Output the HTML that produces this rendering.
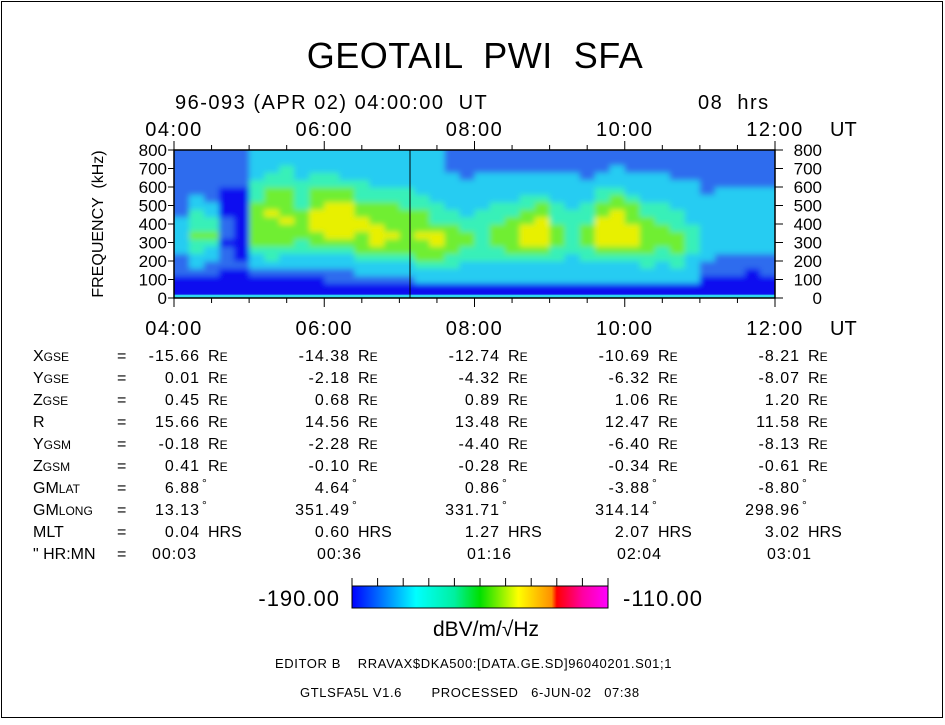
<!DOCTYPE html>
<html><head><meta charset="utf-8"><style>
body{margin:0;background:#fff}
svg text{font-family:"Liberation Sans",sans-serif;fill:#000;white-space:pre}
</style></head><body>
<svg id="s" width="945" height="720" viewBox="0 0 945 720" xmlns="http://www.w3.org/2000/svg">
<defs>
<linearGradient id="cb" x1="0" x2="1">
<stop offset="0" stop-color="#0000ff"/><stop offset="0.25" stop-color="#00ffff"/><stop offset="0.4" stop-color="#00f0a0"/><stop offset="0.5" stop-color="#00e000"/><stop offset="0.65" stop-color="#ffff00"/><stop offset="0.78" stop-color="#ff9000"/><stop offset="0.8" stop-color="#ff0000"/><stop offset="0.9" stop-color="#ff00a0"/><stop offset="1" stop-color="#ff00ff"/></linearGradient>
<clipPath id="pc"><rect x="174" y="150" width="601" height="148"/></clipPath>
<filter id="bl" x="-5%" y="-5%" width="110%" height="110%"><feGaussianBlur stdDeviation="3 3"/></filter>
</defs>
<rect x="1.5" y="1.5" width="941" height="716" fill="#fff" stroke="#000"/>
<text x="475" y="68" font-size="36" letter-spacing="0.5" text-anchor="middle">GEOTAIL  PWI  SFA</text>
<text x="175" y="109" font-size="20" letter-spacing="1.5">96-093 (APR 02) 04:00:00  UT</text>
<text x="698" y="109" font-size="20" letter-spacing="1.5">08  hrs</text>
<g clip-path="url(#pc)"><rect x="174" y="150" width="601" height="148" fill="#1e60ee"/><g id="plot" filter="url(#bl)"></g></g>
<g id="axes"></g>
<g id="table"></g>
<rect x="352" y="586" width="256" height="22" fill="url(#cb)" stroke="#000"/>
<g id="cbt"></g>
<text x="340" y="606" font-size="22" letter-spacing="1" text-anchor="end">-190.00</text>
<text x="623" y="606" font-size="22" letter-spacing="1">-110.00</text>
<text x="486" y="636" font-size="21" text-anchor="middle">dBV/m/√Hz</text>
<text x="275" y="668" font-size="13" letter-spacing="0.6">EDITOR B    RRAVAX$DKA500:[DATA.GE.SD]96040201.S01;1</text>
<text x="300" y="697" font-size="13" letter-spacing="0.6">GTLSFA5L V1.6       PROCESSED   6-JUN-02   07:38</text>
</svg>
<script>
const timeLabels=["04:00","06:00","08:00","10:00","12:00"];
const freqTicks=[0,100,200,300,400,500,600,700,800];
const spectra=["00011122222111111111","00012233433322111111","00011223433221111111","00001110111000011111","00001000000000011111","00012234444443332222","00012334444544433222","00012234445444433322","00012233444433332222","00012234455544433222","00112234555554433222","00112234555554432222","00122344455443332222","00122345554443322222","00122344544443322222","00122344444433322222","00223444544433222222","00223445543332222222","00223344443322222111","00222334433222221111","00222333333322222111","00222334443332222111","00222344444332222111","00222345554433222111","00222345555443222111","00222334443332222111","00222233333322222111","00222334443332221111","00222345555443322111","00222345555544322211","00222345554443222111","00223344444332222111","00222334443332222111","00223344433322221111","00222233332222221111","00011222222222111111","00011122222222211111","00011122222222211111","00001122222222211111","00011122222222211111"];
const rowLabels=["X<tspan font-size='12'>GSE</tspan>","Y<tspan font-size='12'>GSE</tspan>","Z<tspan font-size='12'>GSE</tspan>","R","Y<tspan font-size='12'>GSM</tspan>","Z<tspan font-size='12'>GSM</tspan>","GM<tspan font-size='12'>LAT</tspan>","GM<tspan font-size='12'>LONG</tspan>","MLT","\" HR:MN"];
const rowUnits=["R","R","R","R","R","R","°","°","HRS",""];
const tableVals=[["-15.66","-14.38","-12.74","-10.69","-8.21"],["0.01","-2.18","-4.32","-6.32","-8.07"],["0.45","0.68","0.89","1.06","1.20"],["15.66","14.56","13.48","12.47","11.58"],["-0.18","-2.28","-4.40","-6.40","-8.13"],["0.41","-0.10","-0.28","-0.34","-0.61"],["6.88","4.64","0.86","-3.88","-8.80"],["13.13","351.49","331.71","314.14","298.96"],["0.04","0.60","1.27","2.07","3.02"],["00:03","00:36","01:16","02:04","03:01"]];
const NS="http://www.w3.org/2000/svg";
const X0=174,X1=775,Y0=150,Y1=298,HOURS=8;
const xs=h=>X0+(X1-X0)*h/HOURS;
const ys=f=>Y1-(Y1-Y0)*f/800;
const pal=["#0808f0","#2e6cee","#28ccf2","#38f0b8","#70ee30","#e8f000"];
function mk(tag,at,par){const e=document.createElementNS(NS,tag);for(const k in at)e.setAttribute(k,at[k]);par.appendChild(e);return e;}
const plot=document.getElementById('plot'),axes=document.getElementById('axes'),tbl=document.getElementById('table');
const nc=spectra.length,nr=spectra[0].length,fstep=800/nr;
spectra.forEach((col,i)=>{
  const xa=xs(i*HOURS/nc)-(i==0?10:0),xb=xs((i+1)*HOURS/nc)+(i==nc-1?10:0);
  for(let j=0;j<nr;j++){
    const r=mk('rect',{x:xa,y:ys((j+1)*fstep)-(j==nr-1?10:0),width:xb-xa+0.5,height:ys(j*fstep)-ys((j+1)*fstep)+0.5+(j==nr-1?10:0),fill:pal[+col[j]]},plot);
    
    
  }
});
const st=mk('rect',{x:X0,y:ys(18),width:X1-X0,height:ys(0)-ys(18),fill:'#30d8f0'},plot.parentNode);


const vl=mk('line',{x1:410,x2:410,y1:Y0,y2:Y1,stroke:'#000','stroke-width':1},plot.parentNode);


const bx=mk('rect',{x:X0,y:Y0,width:X1-X0,height:Y1-Y0,fill:'none',stroke:'#000','stroke-width':1.5},axes);


for(let k=0;k<=16;k++){
  const x=xs(k/2),L=k%4==0?9:5;
  mk('line',{x1:x,x2:x,y1:Y0,y2:Y0-L,stroke:'#000'},axes);
  mk('line',{x1:x,x2:x,y1:Y1,y2:Y1+L,stroke:'#000'},axes);
}
timeLabels.forEach((t,i)=>{
  const x=xs(i*2);
  const a=mk('text',{x:x,y:136,'font-size':20,'letter-spacing':1.5,'text-anchor':'middle'},axes);a.textContent=t;
  
  
  const b=mk('text',{x:x,y:335,'font-size':20,'letter-spacing':1.5,'text-anchor':'middle'},axes);b.textContent=t;
  
  
});
[136,335].forEach(y=>{const u=mk('text',{x:830,y:y,'font-size':20},axes);u.textContent='UT';
  
  });
freqTicks.forEach(f=>{
  const y=ys(f);
  mk('line',{x1:X0,x2:X0-6,y1:y,y2:y,stroke:'#000'},axes);
  mk('line',{x1:X1,x2:X1+8,y1:y,y2:y,stroke:'#000'},axes);
  const a=mk('text',{x:167,y:y+6,'font-size':17,'text-anchor':'end'},axes);a.textContent=f;
  
  
  const b=mk('text',{x:822,y:y+6,'font-size':17,'text-anchor':'end'},axes);b.textContent=f;
  
  
});
const yt=mk('text',{x:0,y:0,'font-size':16,'text-anchor':'middle',transform:'translate(103,224) rotate(-90)'},axes);
yt.textContent='FREQUENCY  (kHz)';


const colEnd=[200,350,500,650,800];
rowLabels.forEach((lab,r)=>{
  const y=361+r*22;
  const t=mk('text',{x:33,y:y,'font-size':16},tbl);t.innerHTML=lab;
  
  
  const e=mk('text',{x:117,y:y,'font-size':16},tbl);e.textContent='=';
  tableVals[r].forEach((v,c)=>{
    const off=r==9?(c==0?-3:12):0;
    const n=mk('text',{x:colEnd[c]+off,y:y,'font-size':16,'letter-spacing':1,'text-anchor':'end'},tbl);n.textContent=v;
    
    
    const u=rowUnits[r];
    if(u){const ut=mk('text',{x:colEnd[c]+(u=='°'?2:8),y:u=='°'?y-6:y,'font-size':u=='°'?12:16},tbl);
      ut.innerHTML=u=='R'?"R<tspan font-size='12'>E</tspan>":u;}
  });
});
const cbt=document.getElementById('cbt');
for(let k=0;k<=10;k++){const x=352+256*k/10;mk('line',{x1:x,x2:x,y1:586,y2:578,stroke:'#000'},cbt);}
</script>
</body></html>
